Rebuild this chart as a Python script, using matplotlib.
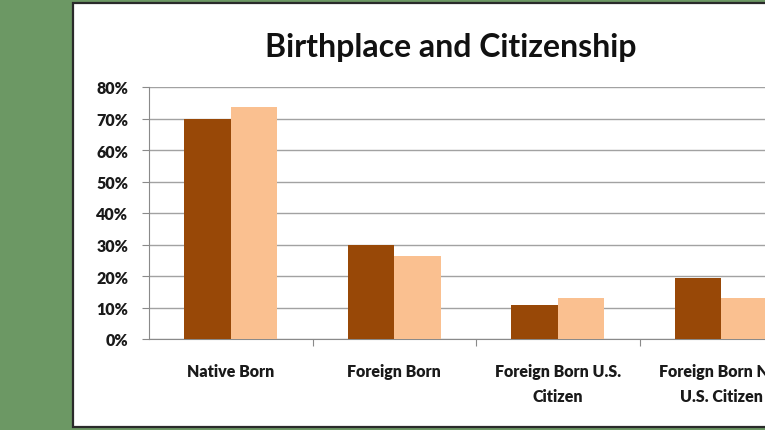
import numpy as np
import matplotlib.pyplot as plt
from matplotlib.patches import Rectangle

# survey shares by birthplace / citizenship, two series
categories = ["Native Born", "Foreign Born", "Foreign Born U.S.\nCitizen", "Foreign Born Not\nU.S. Citizen"]
series_a = [70.0, 30.0, 10.8, 19.4]
series_b = [73.6, 26.3, 13.0, 13.0]
yticks = [0, 10, 20, 30, 40, 50, 60, 70, 80]

dark = "#984807"
light = "#fac090"
green = "#6c9864"

W, H = 765, 431
fig = plt.figure(figsize=(W / 100, H / 100), dpi=100)
fig.patch.set_facecolor(green)

# white slide panel with dark border, running off the right edge
panel = Rectangle((73 / W, (H - 428) / H), 1.0, 424 / H, transform=fig.transFigure,
                  facecolor="white", edgecolor="#2a2a2a", linewidth=1.6, zorder=-10)
fig.patches.append(panel)

ax = fig.add_axes([149 / W, (H - 340) / H, 654 / W, 252 / H])
ax.set_facecolor("none")

x = np.arange(len(categories))
w = 0.285
ax.bar(x - w / 2, series_a, w, color=dark, zorder=3)
ax.bar(x + w / 2, series_b, w, color=light, zorder=3)

ax.set_xlim(-0.5, len(categories) - 0.5)
ax.set_ylim(0, 80)

ax.set_yticks(yticks)
ax.set_yticklabels([f"{v}%" for v in yticks], fontsize=11.5, fontweight="heavy",
                   family="Lato", color="#1a1a1a")
ax.yaxis.grid(True, color="#a2a2a2", linewidth=1.0, zorder=0)

# tick marks between groups, labels centred under each group
ax.set_xticks(np.arange(0.5, len(categories) - 0.5, 1.0))
ax.set_xticklabels([])
ax.set_xticks(x, minor=True)
ax.set_xticklabels(categories, minor=True, fontsize=11.5, fontweight="heavy",
                   family="Lato", color="#1a1a1a", linespacing=1.75)
ax.tick_params(axis="x", which="minor", length=0, pad=17)
ax.tick_params(axis="x", which="major", length=5, color="#8a8a8a", direction="out")
ax.tick_params(axis="y", length=5, color="#8a8a8a", pad=10)

for s in ["top", "right"]:
    ax.spines[s].set_visible(False)
ax.spines["left"].set_color("#8a8a8a")
ax.spines["bottom"].set_color("#8a8a8a")

fig.text(451 / W, (H - 48) / H, "Birthplace and Citizenship", ha="center", va="center",
         fontsize=23, fontweight="bold", family="Lato", color="#111111")

fig.savefig("out.png", dpi=100, facecolor=fig.get_facecolor())
